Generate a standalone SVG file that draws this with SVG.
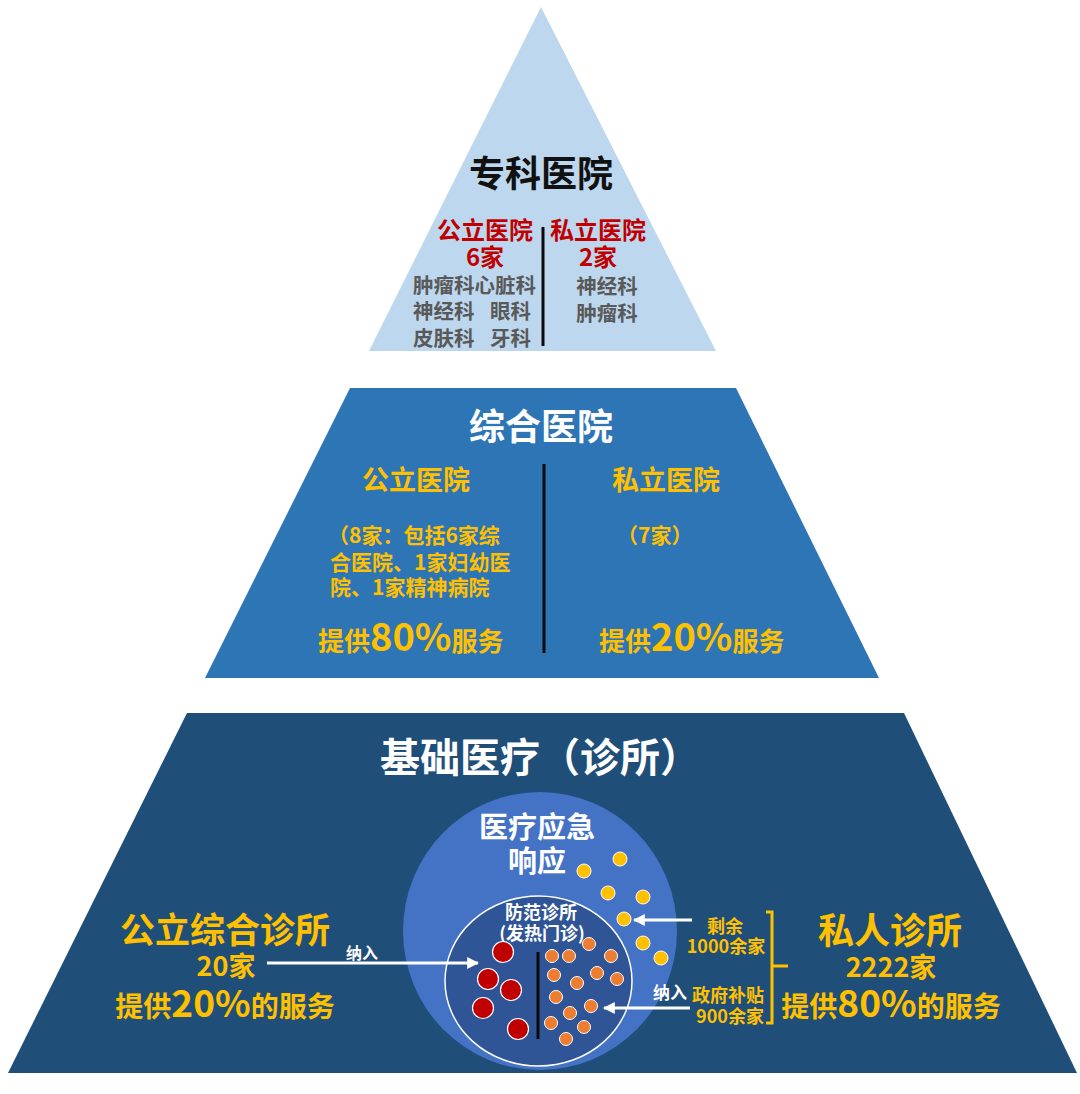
<svg xmlns="http://www.w3.org/2000/svg" width="1080" height="1094" viewBox="0 0 1080 1094">
<defs>
<style>
text{font-family:"Noto Sans CJK SC","Noto Sans",sans-serif;font-weight:bold}
.w{fill:#ffffff}
.y{fill:#ffc000}
.r{fill:#c00000}
.g{fill:#595959}
.k{fill:#111111}
.m{text-anchor:middle}
.div{stroke:#0a0a0a;stroke-width:3}
.redc{fill:#c00000;stroke:#ffffff;stroke-width:1.2}
.orc{fill:#ed7d31;stroke:#ffffff;stroke-width:1}
.yc{fill:#ffc000;stroke:#ffffff;stroke-width:1}
.arr{stroke:#ffffff;stroke-width:3;fill:none;marker-end:url(#ah)}
.br{stroke:#ffc000;stroke-width:3;fill:none}
</style>
<marker id="ah" viewBox="0 0 10 10" refX="9" refY="5" markerWidth="4" markerHeight="4" orient="auto" markerUnits="strokeWidth">
<path d="M0,0 L10,5 L0,10 z" fill="#ffffff"/>
</marker>
</defs>
<rect width="1080" height="1094" fill="#ffffff"/>

<g id="specialist">
<polygon points="541,7 716,351 369,351" fill="#bdd7ee"/>
<text class="k m" x="541" y="187" font-size="36">专科医院</text>
<text class="r m" x="485" y="239" font-size="24">公立医院</text>
<text class="r m" x="485" y="266" font-size="24">6家</text>
<text class="r m" x="598" y="239" font-size="24">私立医院</text>
<text class="r m" x="598" y="266" font-size="24">2家</text>
<line class="div" x1="543" y1="227" x2="543" y2="346"/>
<text class="g" x="413" y="293" font-size="20.5">肿瘤科心脏科</text>
<text class="g" x="413" y="319" font-size="20.5">神经科</text>
<text class="g" x="490" y="319" font-size="20.5">眼科</text>
<text class="g" x="413" y="346" font-size="20.5">皮肤科</text>
<text class="g" x="490" y="346" font-size="20.5">牙科</text>
<text class="g m" x="607" y="294" font-size="20.5">神经科</text>
<text class="g m" x="607" y="321" font-size="20.5">肿瘤科</text>
</g>

<g id="general">
<polygon points="350,388 736,388 879,678 205,678" fill="#2e75b6"/>
<text class="w m" x="541" y="440" font-size="36">综合医院</text>
<text class="y m" x="416" y="490" font-size="27">公立医院</text>
<text class="y m" x="666" y="490" font-size="27">私立医院</text>
<line class="div" x1="544" y1="464" x2="544" y2="653" stroke="#0d1b33"/>
<text class="y" x="328" y="543" font-size="21">（8家：包括6家综</text>
<text class="y" x="330" y="570" font-size="21">合医院、1家妇幼医</text>
<text class="y" x="330" y="595" font-size="21">院、1家精神病院</text>
<text class="y" x="617" y="543" font-size="21">（7家）</text>
<text class="y" x="318" y="651" font-size="26">提供<tspan font-size="38">80%</tspan>服务</text>
<text class="y" x="599" y="651" font-size="26">提供<tspan font-size="38">20%</tspan>服务</text>
</g>

<g id="primary">
<polygon points="187,713 904,713 1077,1073 8,1073" fill="#1f4e79"/>
<text class="w m" x="540" y="772" font-size="40">基础医疗（诊所）</text>
</g>

<g id="emergency">
<ellipse cx="540" cy="931" rx="137" ry="139" fill="#4472c4"/>
<text class="w m" x="537" y="838" font-size="29">医疗应急</text>
<text class="w m" x="537" y="872" font-size="29">响应</text>
<circle class="yc" cx="620" cy="859" r="7"/>
<circle class="yc" cx="584" cy="871" r="7"/>
<circle class="yc" cx="608" cy="893" r="7"/>
<circle class="yc" cx="643" cy="897" r="7"/>
<circle class="yc" cx="624" cy="919" r="7"/>
<circle class="yc" cx="643" cy="943" r="7"/>
<circle class="yc" cx="661" cy="958" r="7"/>
</g>

<g id="fever-clinic">
<ellipse cx="538.5" cy="981" rx="93.5" ry="85" fill="#2f5597" stroke="#ffffff" stroke-width="1.5"/>
<text class="w m" x="541" y="919" font-size="18">防范诊所</text>
<text class="w m" x="542" y="940" font-size="18">(发热门诊)</text>
<line class="div" x1="538" y1="952" x2="538" y2="1039"/>
<circle class="redc" cx="503" cy="952" r="10.5"/>
<circle class="redc" cx="488" cy="979" r="10.5"/>
<circle class="redc" cx="511" cy="990" r="10.5"/>
<circle class="redc" cx="483" cy="1008" r="10.5"/>
<circle class="redc" cx="518" cy="1029" r="10.5"/>
<circle class="orc" cx="589" cy="944" r="6.5"/>
<circle class="orc" cx="552" cy="956" r="6.5"/>
<circle class="orc" cx="569" cy="956" r="6.5"/>
<circle class="orc" cx="611" cy="956" r="6.5"/>
<circle class="orc" cx="554" cy="975" r="6.5"/>
<circle class="orc" cx="597" cy="973" r="6.5"/>
<circle class="orc" cx="617" cy="979" r="6.5"/>
<circle class="orc" cx="577" cy="983" r="6.5"/>
<circle class="orc" cx="556" cy="997" r="6.5"/>
<circle class="orc" cx="591" cy="1006" r="6.5"/>
<circle class="orc" cx="570" cy="1013" r="6.5"/>
<circle class="orc" cx="551" cy="1023" r="6.5"/>
<circle class="orc" cx="584" cy="1027" r="6.5"/>
<circle class="orc" cx="566" cy="1039" r="6.5"/>
</g>

<g id="public-clinic">
<text class="y m" x="225" y="943" font-size="35">公立综合诊所</text>
<text class="y m" x="226" y="976" font-size="27">20家</text>
<text class="y m" x="225" y="1017" font-size="28">提供<tspan font-size="37">20%</tspan>的服务</text>
</g>

<g id="private-clinic">
<text class="y m" x="725" y="933" font-size="18">剩余</text>
<text class="y m" x="726" y="953" font-size="18">1000余家</text>
<text class="y m" x="728" y="1002" font-size="18">政府补贴</text>
<text class="y m" x="730" y="1023" font-size="18">900余家</text>
<path class="br" d="M766,912 L772,912 L772,1023 L766,1023 M772,966 L788,966"/>
<text class="y m" x="890" y="944" font-size="36">私人诊所</text>
<text class="y m" x="891" y="977" font-size="27">2222家</text>
<text class="y m" x="891" y="1017" font-size="28">提供<tspan font-size="37">80%</tspan>的服务</text>
</g>

<g id="connectors">
<line class="arr" x1="267" y1="963" x2="478" y2="963"/>
<text class="w m" x="362" y="959" font-size="16">纳入</text>
<line class="arr" x1="692" y1="920" x2="634" y2="920"/>
<line class="arr" x1="690" y1="1008" x2="604" y2="1008"/>
<text class="w m" x="670" y="999" font-size="17">纳入</text>
</g>
</svg>
